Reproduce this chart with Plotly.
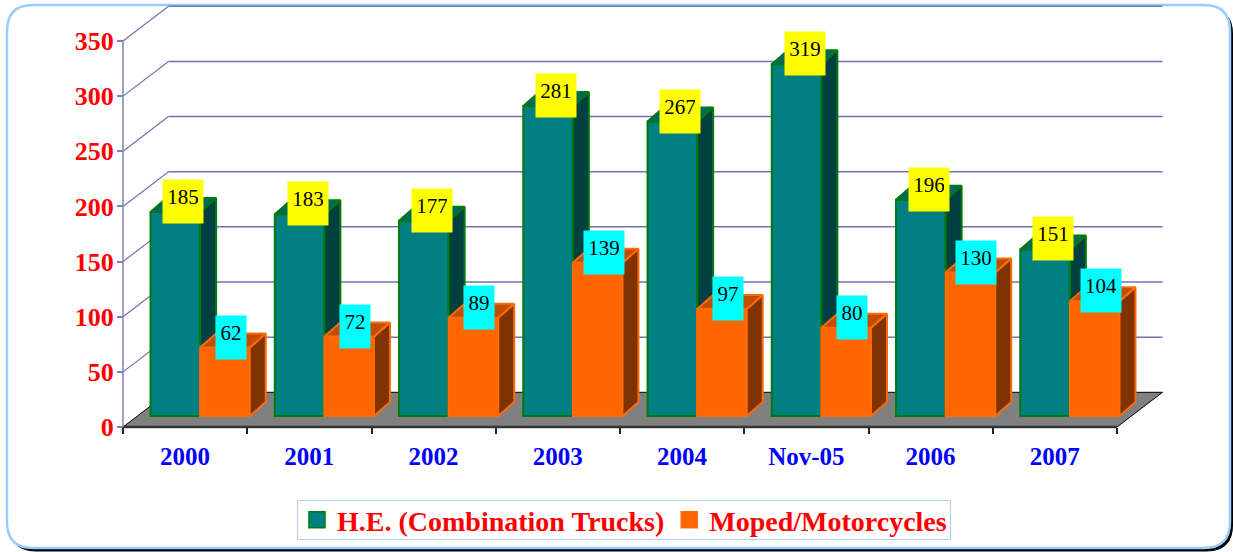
import plotly.graph_objects as go

categories = ["2000", "2001", "2002", "2003", "2004", "Nov-05", "2006", "2007"]
trucks = [185, 183, 177, 281, 267, 319, 196, 151]
mopeds = [62, 72, 89, 139, 97, 80, 130, 104]
y_ticks = [0, 50, 100, 150, 200, 250, 300, 350]

W, H = 1233, 552
X0, X_UNIT = 123.0, 124.25      # px of category 0 boundary, px per category
Y0, Y_UNIT = 427.0, 1.1029      # px of value 0, px per value unit
def dx(p): return p / X_UNIT
def dy(p): return p / Y_UNIT

x_range = [(0 - X0) / X_UNIT, (W - X0) / X_UNIT]
y_range = [(Y0 - H) / Y_UNIT, Y0 / Y_UNIT]

n = len(categories)
WALL_X, WALL_Y = dx(45.5), dy(34.7)
FRONT_X, FRONT_Y = dx(15), dy(11)
DEPTH_X, DEPTH_Y = dx(16), dy(14)
BAR_W = dx(49.6)

def faces(centers, values):
    side_x, side_y, top_x, top_y = [], [], [], []
    for c, v in zip(centers, values):
        l, r = c - BAR_W / 2, c + BAR_W / 2
        t = FRONT_Y + v
        side_x += [r, r + DEPTH_X, r + DEPTH_X, r, r, None]
        side_y += [FRONT_Y, FRONT_Y + DEPTH_Y, t + DEPTH_Y, t, FRONT_Y, None]
        top_x += [l, l + DEPTH_X, r + DEPTH_X, r, l, None]
        top_y += [t, t + DEPTH_Y, t + DEPTH_Y, t, t, None]
    return side_x, side_y, top_x, top_y

fig = go.Figure()
series = [
    ("H.E. (Combination Trucks)", trucks, -1, "#008080", "#006666", "#004040", "#007A0A", "x", "y", "#FFFF00", 8),
    ("Moped/Motorcycles", mopeds, 1, "#FF6600", "#C04D00", "#803300", "#FF6A0A", "x2", "y2", "#00FFFF", 6),
]
annotations = []
for name, vals, sign, front, top, side, line, xa, ya, box, shift in series:
    centers = [i + 0.5 + FRONT_X + sign * BAR_W / 2 for i in range(n)]
    fig.add_trace(go.Bar(x=centers, y=vals, base=[FRONT_Y] * n, width=BAR_W, name=name, showlegend=False,
                         marker=dict(color=front, line=dict(color=line, width=2)),
                         xaxis=xa, yaxis=ya))
    sx, sy, tx, ty = faces(centers, vals)
    for fx, fy, col in ((sx, sy, side), (tx, ty, top)):
        fig.add_trace(go.Scatter(x=fx, y=fy, mode="lines", fill="toself", fillcolor=col,
                                 line=dict(color=line, width=2), showlegend=False,
                                 hoverinfo="skip", xaxis=xa, yaxis=ya))
    fig.add_trace(go.Scatter(x=[None], y=[None], mode="markers", name=name, hoverinfo="skip",
                             marker=dict(symbol="square", size=16, color=front, line=dict(color=line, width=1.5)),
                             xaxis=xa, yaxis=ya))
    for c, v in zip(centers, vals):
        annotations.append(dict(x=c, y=FRONT_Y + v, xref="x", yref="y", text=str(v), showarrow=False,
                                xshift=shift, yshift=10.5, width=len(str(v)) * 10, height=33,
                                bgcolor=box, borderpad=5, align="center", valign="top",
                                font=dict(family="Liberation Serif", size=21, color="black")))

GRID = "#7272B2"
shapes = []
def px(p): return p / W
def py(p): return 1 - p / H
def rrect(l, t, r, b, rad):
    rx, ry = rad / W, rad / H
    L, R, T, B = px(l), px(r), py(t), py(b)
    return (f"M {L+rx} {T} L {R-rx} {T} Q {R} {T} {R} {T-ry} L {R} {B+ry} Q {R} {B} {R-rx} {B} "
            f"L {L+rx} {B} Q {L} {B} {L} {B+ry} L {L} {T-ry} Q {L} {T} {L+rx} {T} Z")
shapes.append(dict(type="path", xref="paper", yref="paper", path=rrect(10, 8, 1232.5, 551, 26),
                   fillcolor="black", line=dict(color="black", width=1), layer="below"))
shapes.append(dict(type="path", xref="paper", yref="paper", path=rrect(7, 5, 1230, 548, 26),
                   fillcolor="white", line=dict(color="#99CCFF", width=2.5), layer="below"))
shapes.append(dict(type="rect", xref="paper", yref="paper", x0=px(297.5), x1=px(950.5), y0=py(539.5), y1=py(500.5),
                   fillcolor="white", line=dict(color="#A8D0FF", width=1), layer="below"))
# floor
shapes.append(dict(type="path", xref="x", yref="y",
                   path=f"M 0 0 L {WALL_X} {WALL_Y} L {n+WALL_X} {WALL_Y} L {n} 0 Z",
                   fillcolor="#808080", line=dict(color="black", width=1), layer="below"))
shapes.append(dict(type="line", xref="x", yref="y", x0=0, y0=0, x1=n, y1=0,
                   line=dict(color="#333333", width=2.5), layer="below"))
# walls
for v in y_ticks[1:]:
    shapes.append(dict(type="line", xref="x", yref="y", x0=0, y0=v, x1=WALL_X, y1=v + WALL_Y,
                       line=dict(color=GRID, width=1.2), layer="below"))
    shapes.append(dict(type="line", xref="x", yref="y", x0=WALL_X, y0=v + WALL_Y, x1=n + WALL_X, y1=v + WALL_Y,
                       line=dict(color=GRID, width=1.5), layer="below"))
shapes.append(dict(type="line", xref="x", yref="y", x0=0, y0=0, x1=0, y1=y_ticks[-1],
                   line=dict(color="#8080B8", width=1.5), layer="below"))

fig.update_layout(
    width=W, height=H, autosize=False,
    margin=dict(l=0, r=0, t=0, b=0),
    paper_bgcolor="white", plot_bgcolor="rgba(0,0,0,0)",
    showlegend=True,
    legend=dict(orientation="h", x=297 / W, xanchor="left", y=1 - 495 / H, yanchor="top",
                borderwidth=0, bgcolor="rgba(0,0,0,0)",
                font=dict(family="Liberation Serif", size=28, color="#FF0000", weight="bold"),
                traceorder="normal"),
    shapes=shapes, annotations=annotations,
    xaxis=dict(range=x_range, domain=[0, 1], anchor="free", position=1 - Y0 / H,
               tickmode="array", tickvals=[i + 0.5 for i in range(n)], ticktext=categories,
               ticks="", showgrid=False, zeroline=False, showline=False,
               ticklabelstandoff=12,
               tickfont=dict(family="Liberation Serif", size=25, color="#0000FF", weight="bold"),
               minor=dict(tickmode="array", tickvals=list(range(n + 1)), ticks="outside",
                          ticklen=6, tickwidth=1.5, tickcolor="#222222", showgrid=False)),
    yaxis=dict(range=y_range, domain=[0, 1], anchor="free", position=X0 / W,
               tickmode="array", tickvals=y_ticks, ticks="outside", ticklen=6, tickwidth=1.5,
               tickcolor="#8080B8", showgrid=False, zeroline=False, showline=False,
               ticklabelstandoff=-2,
               tickfont=dict(family="Liberation Serif", size=26, color="#FF0000", weight="bold")),
    xaxis2=dict(range=x_range, overlaying="x", visible=False, anchor="y2"),
    yaxis2=dict(range=y_range, overlaying="y", visible=False, anchor="x2"),
)
fig.write_html("out.html", config={"displayModeBar": False},
               post_script="document.body.style.margin='0';document.body.style.overflow='hidden';")
